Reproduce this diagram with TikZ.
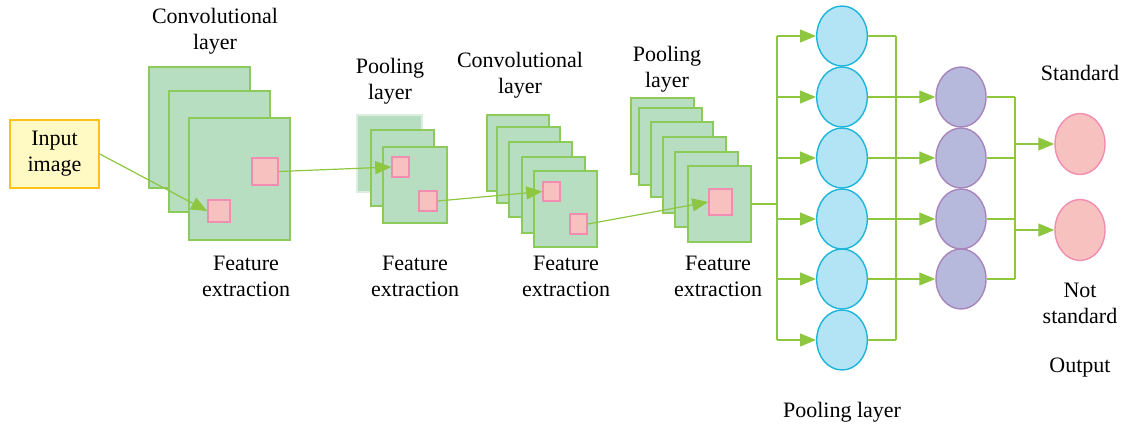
\documentclass[tikz,border=0pt]{standalone}
\usepackage{fontspec}
\setmainfont{Liberation Serif}
\usetikzlibrary{arrows.meta,fit,shapes.geometric}
\definecolor{fmfill}{HTML}{B7DEC1}
\definecolor{fmline}{HTML}{8CCB5A}
\definecolor{gline}{HTML}{8DC63F}
\definecolor{pkfill}{HTML}{F7C1BF}
\definecolor{pkline}{HTML}{F18DB1}
\definecolor{blfill}{HTML}{B3E4F6}
\definecolor{blline}{HTML}{1DB5D9}
\definecolor{pufill}{HTML}{B7B9DC}
\definecolor{puline}{HTML}{A784BC}
\definecolor{yfill}{HTML}{FFF9C4}
\definecolor{yline}{HTML}{F9C31A}
\begin{document}
\begin{tikzpicture}[x=0.5pt,y=-0.5pt,
  fmap/.style={draw=fmline, fill=fmfill, line width=0.8pt, inner sep=0pt},
  fmapfaint/.style={draw=fmfill!50!white, fill=fmfill, line width=0.8pt, inner sep=0pt},
  pk/.style={draw=pkline, fill=pkfill, line width=0.8pt, inner sep=0pt},
  lbl/.style={font=\fontsize{11}{13}\selectfont, align=center, inner sep=0pt},
  conn/.style={draw=gline, line width=0.6pt},
  arr/.style={conn, -{Triangle[length=8pt,width=6.5pt]}},
  blue/.style={ellipse, draw=blline, fill=blfill, line width=0.7pt, minimum width=25.3pt, minimum height=30pt, inner sep=0pt},
  purp/.style={ellipse, draw=puline, fill=pufill, line width=0.7pt, minimum width=25pt, minimum height=30pt, inner sep=0pt},
  outc/.style={ellipse, draw=pkline, fill=pkfill, line width=0.7pt, minimum width=25pt, minimum height=30.5pt, inner sep=0pt},
  inbox/.style={draw=yline, fill=yfill, line width=0.8pt, inner sep=0pt}
]
\useasboundingbox (0,0) rectangle (1125,428);

% Input
\node[inbox, fit={(10,120) (99,188)}] (inp) {};
\node[lbl] (inptxt) at (inp.center) {Input\\image};

% Conv layer 1
\node[fmap, fit={(149,67) (250,188)}] (c1a) {};
\node[fmap, fit={(169,91) (270,212)}] (c1b) {};
\node[fmap, fit={(189,118) (290,240)}] (c1c) {};
\node[pk, fit={(252,158) (278,185)}] (c1p1) {};
\node[pk, fit={(208,200) (230,222)}] (c1p2) {};
\node[lbl] (t1) at (215,31) {Convolutional\\layer};
\node[lbl] (f1) at (246,276) {Feature\\extraction};

% Pooling layer 1
\node[fmapfaint, fit={(357,115) (422,192)}] (p1a) {};
\node[fmap, fit={(371,130) (434,206)}] (p1b) {};
\node[fmap, fit={(383,147) (447,223)}] (p1c) {};
\node[pk, fit={(392,157) (409,177)}] (p1p1) {};
\node[pk, fit={(419,191) (437,211)}] (p1p2) {};
\node[lbl] (t2) at (390,81) {Pooling\\layer};
\node[lbl] (f2) at (415,276) {Feature\\extraction};

% Conv layer 2
\node[fmap, fit={(487,115) (549,191)}] (c2a) {};
\node[fmap, fit={(497,127) (560,203)}] (c2b) {};
\node[fmap, fit={(509,142) (572,217)}] (c2c) {};
\node[fmap, fit={(522,157) (585,233)}] (c2d) {};
\node[fmap, fit={(534,171) (597,247)}] (c2e) {};
\node[pk, fit={(543,182) (560,201)}] (c2p1) {};
\node[pk, fit={(570,214) (587,234)}] (c2p2) {};
\node[lbl] (t3) at (520,75) {Convolutional\\layer};
\node[lbl] (f3) at (566,276) {Feature\\extraction};

% Pooling layer 2
\node[fmap, fit={(631,98) (694,174)}] (p2a) {};
\node[fmap, fit={(639,108) (702,185)}] (p2b) {};
\node[fmap, fit={(651,122) (713,197)}] (p2c) {};
\node[fmap, fit={(663,137) (726,213)}] (p2d) {};
\node[fmap, fit={(675,152) (738,227)}] (p2e) {};
\node[fmap, fit={(688,166) (751,242)}] (p2f) {};
\node[pk, fit={(709,189) (732,215)}] (p2p) {};
\node[lbl] (t4) at (667,69) {Pooling\\layer};
\node[lbl] (f4) at (718,276) {Feature\\extraction};

% arrows between maps
\draw[arr] (inp.east) -- (c1p2.west);
\draw[arr] (c1p1.east) -- (p1p1.west);
\draw[arr] (p1p2.east) -- (c2p1.west);
\draw[arr] (c2p2.east) -- (p2p.west);

% Fully connected
\coordinate (s1) at (777,0);
\coordinate (s2) at (896,0);
\coordinate (s3) at (1015,0);
\node[blue] (b1) at (842,36) {};
\node[blue] (b2) at (842,97) {};
\node[blue] (b3) at (842,158) {};
\node[blue] (b4) at (842,219) {};
\node[blue] (b5) at (842,279) {};
\node[blue] (b6) at (842,340) {};
\node[purp] (u1) at (961,97) {};
\node[purp] (u2) at (961,158) {};
\node[purp] (u3) at (961,219) {};
\node[purp] (u4) at (961,279) {};
\node[outc] (o1) at (1080,144) {};
\node[outc] (o2) at (1080,230) {};

\draw[conn] (p2f.east) -- (p2f.east -| s1);
\draw[conn] (b1.west -| s1) -- (b6.west -| s1);
\foreach \i in {1,...,6} {
  \draw[arr] (b\i.west -| s1) -- (b\i.west);
  \draw[conn] (b\i.east) -- (b\i.east -| s2);
}
\draw[conn] (b1.east -| s2) -- (b6.east -| s2);
\foreach \i in {1,...,4} {
  \draw[arr] (u\i.west -| s2) -- (u\i.west);
  \draw[conn] (u\i.east) -- (u\i.east -| s3);
}
\draw[conn] (u1.east -| s3) -- (u4.east -| s3);
\draw[arr] (o1.west -| s3) -- (o1.west);
\draw[arr] (o2.west -| s3) -- (o2.west);

\node[lbl] (st) at (1080,73) {Standard};
\node[lbl] (ns) at (1080,303) {Not\\standard};
\node[lbl] (ou) at (1080,368) {Output};
\node[lbl] (pl) at (842,412) {Pooling layer};
\end{tikzpicture}
\end{document}
